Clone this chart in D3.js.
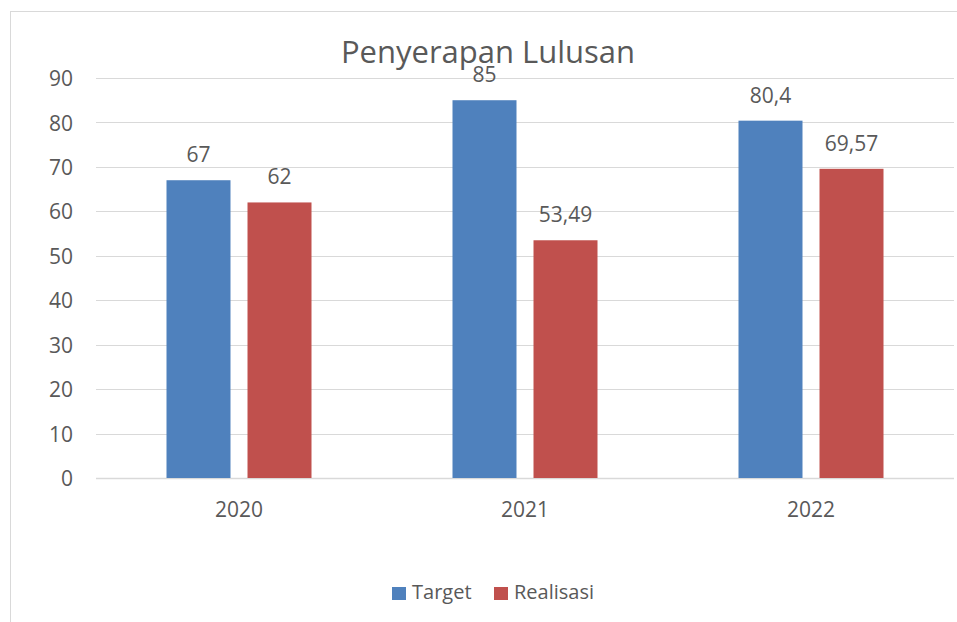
<!DOCTYPE html>
<html>
<head>
<meta charset="utf-8">
<script src="https://cdn.jsdelivr.net/npm/d3@7"></script>
<style>
  html, body { margin: 0; padding: 0; background: #fff; }
  svg { display: block; }
  text { font-family: "Open Sans", "Noto Sans", sans-serif; fill: #595959; }
</style>
</head>
<body>
<svg id="chart" width="957" height="622"></svg>
<script>
const title = "Penyerapan Lulusan";
const categories = ["2020", "2021", "2022"];
const seriesNames = ["Target", "Realisasi"];
const target = [67, 85, 80.4];
const realisasi = [62, 53.49, 69.57];
const yTicks = [0, 10, 20, 30, 40, 50, 60, 70, 80, 90];
const colors = ["#4F81BD", "#C0504D"];

const seriesValues = [target, realisasi];
const rows = categories.map((c, i) => ({
  cat: c,
  vals: seriesNames.map((s, j) => ({ key: s, value: seriesValues[j][i], idx: j }))
}));

const svg = d3.select("#chart");
const plot = { left: 96, right: 954, top: 78, bottom: 478 };

// chart border
svg.append("rect")
  .attr("x", 10.5).attr("y", 11.5)
  .attr("width", 960).attr("height", 640)
  .attr("fill", "none").attr("stroke", "#D9D9D9").attr("stroke-width", 1);

const y = d3.scaleLinear().domain([0, 90]).range([plot.bottom, plot.top]);
const x0 = d3.scaleBand().domain(categories).range([plot.left, plot.right]).paddingInner(0).paddingOuter(0);
const groupW = 145;
const x1 = d3.scaleBand().domain(seriesNames).range([0, groupW]).paddingInner(0.21).paddingOuter(0);

// gridlines
svg.append("g").selectAll("line").data(yTicks).join("line")
  .attr("x1", plot.left).attr("x2", plot.right)
  .attr("y1", d => Math.round(y(d)) + 0.5).attr("y2", d => Math.round(y(d)) + 0.5)
  .attr("stroke", "#D9D9D9").attr("stroke-width", d => d === 0 ? 1.5 : 1.2);

// y axis labels
const yAxis = d3.axisLeft(y).tickValues(yTicks).tickSize(0).tickPadding(0).tickFormat(d3.format("d"));
const gy = svg.append("g").attr("transform", `translate(73,0)`).call(yAxis);
gy.select(".domain").remove();
gy.selectAll("text").attr("font-size", 21).attr("fill", "#595959")
  .style("font-family", '"Open Sans", sans-serif').attr("dy", "0.36em");

// x axis labels
const xAxis = d3.axisBottom(x0).tickSize(0).tickPadding(0);
const gx = svg.append("g").attr("transform", `translate(0,${plot.bottom})`).call(xAxis);
gx.select(".domain").remove();
gx.selectAll("text").attr("font-size", 21).attr("fill", "#595959")
  .style("font-family", '"Open Sans", sans-serif').attr("y", 39).attr("dy", 0);

// bars
const offset = (x0.bandwidth() - groupW) / 2;
const groups = svg.append("g").selectAll("g").data(rows).join("g")
  .attr("transform", d => `translate(${x0(d.cat) + offset},0)`);

groups.selectAll("rect").data(d => d.vals).join("rect")
  .attr("x", d => x1(d.key))
  .attr("y", d => y(d.value))
  .attr("width", x1.bandwidth())
  .attr("height", d => y(0) - y(d.value))
  .attr("fill", d => colors[d.idx]);

// title
svg.append("text")
  .attr("x", 488).attr("y", 63)
  .attr("text-anchor", "middle")
  .attr("font-size", 31)
  .text(title);

// data labels
groups.selectAll("text.lbl").data(d => d.vals).join("text")
  .attr("class", "lbl")
  .attr("x", d => x1(d.key) + x1.bandwidth() / 2)
  .attr("y", d => y(d.value) - 18)
  .attr("text-anchor", "middle")
  .attr("font-size", 21)
  .text(d => String(d.value).replace(".", ","));
groups.raise();

// legend
const legend = svg.append("g");
const legendItems = [
  { name: seriesNames[0], color: colors[0], x: 392 },
  { name: seriesNames[1], color: colors[1], x: 494 }
];
legendItems.forEach(it => {
  legend.append("rect").attr("x", it.x).attr("y", 587).attr("width", 14).attr("height", 13).attr("fill", it.color);
  legend.append("text").attr("x", it.x + 20).attr("y", 599).attr("font-size", 20).text(it.name);
});
</script>
</body>
</html>
